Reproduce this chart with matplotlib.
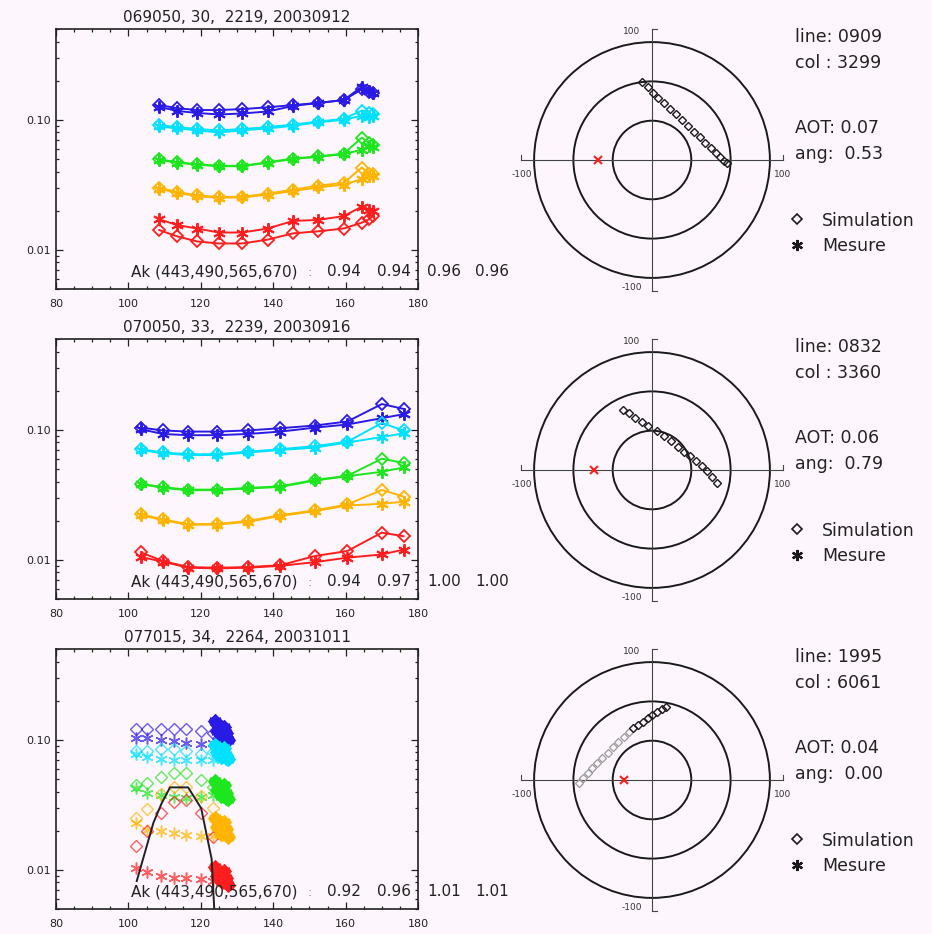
import numpy as np
import matplotlib
matplotlib.use("Agg")
import matplotlib.pyplot as plt
from matplotlib.patches import Circle
from matplotlib.lines import Line2D
from matplotlib.ticker import MultipleLocator, LogLocator, NullFormatter

W, H = 932, 934
BG = "#fdf7fd"
colors = ["#2a1ae6", "#00e1ff", "#1ee61e", "#ffb400", "#ff1e1e"]
STAR = (6, 2, 0)

titles = ["069050, 30,  2219, 20030912",
          "070050, 33,  2239, 20030916",
          "077015, 34,  2264, 20031011"]
ak = [[0.94, 0.94, 0.96, 0.96],
      [0.94, 0.97, 1.00, 1.00],
      [0.92, 0.96, 1.01, 1.01]]
pix_line = ["0909", "0832", "1995"]
pix_col = ["3299", "3360", "6061"]
aot = [0.07, 0.06, 0.04]
ang = [0.53, 0.79, 0.00]

# --- 069050 ---
x1 = [108.5, 113.5, 119, 125, 131.5, 138.5, 145.5, 152.5, 159.5, 164.5, 166.5, 167.5]
sim1 = [
    [0.130, 0.123, 0.119, 0.119, 0.121, 0.125, 0.130, 0.135, 0.142, 0.172, 0.163, 0.160],
    [0.091, 0.088, 0.085, 0.083, 0.085, 0.088, 0.092, 0.097, 0.102, 0.118, 0.112, 0.110],
    [0.0497, 0.0472, 0.0456, 0.0443, 0.0443, 0.0472, 0.0504, 0.0524, 0.0550, 0.0730, 0.0660, 0.0640],
    [0.0300, 0.0279, 0.0262, 0.0255, 0.0256, 0.0271, 0.0290, 0.0312, 0.0328, 0.0430, 0.0385, 0.0380],
    [0.0142, 0.0127, 0.0116, 0.0112, 0.0112, 0.0120, 0.0134, 0.0139, 0.0146, 0.0162, 0.0172, 0.0182],
]
mes1 = [
    [0.126, 0.117, 0.113, 0.110, 0.112, 0.116, 0.128, 0.135, 0.142, 0.180, 0.168, 0.162],
    [0.089, 0.086, 0.083, 0.080, 0.083, 0.086, 0.090, 0.096, 0.100, 0.108, 0.106, 0.107],
    [0.0493, 0.0468, 0.0452, 0.0440, 0.0440, 0.0468, 0.0500, 0.0520, 0.0545, 0.0590, 0.0630, 0.0615],
    [0.0295, 0.0275, 0.0258, 0.0252, 0.0253, 0.0266, 0.0284, 0.0302, 0.0318, 0.0350, 0.0372, 0.0368],
    [0.0172, 0.0155, 0.0146, 0.0136, 0.0136, 0.0146, 0.0167, 0.0170, 0.0182, 0.0215, 0.0204, 0.0200],
]

# --- 070050 ---
x2 = [103.5, 109.5, 116.5, 124.5, 133, 142, 151.5, 160.5, 170, 176]
sim2 = [
    [0.104, 0.099, 0.097, 0.097, 0.099, 0.103, 0.108, 0.116, 0.158, 0.145],
    [0.071, 0.067, 0.065, 0.065, 0.068, 0.071, 0.075, 0.081, 0.113, 0.099],
    [0.0385, 0.0362, 0.0347, 0.0347, 0.0357, 0.0368, 0.0412, 0.0443, 0.0600, 0.0557],
    [0.0224, 0.0205, 0.0188, 0.0189, 0.0199, 0.0221, 0.0240, 0.0267, 0.0345, 0.0307],
    [0.0114, 0.0098, 0.0088, 0.0087, 0.0088, 0.0091, 0.0107, 0.0117, 0.0162, 0.0152],
]
mes2 = [
    [0.101, 0.093, 0.091, 0.091, 0.093, 0.097, 0.104, 0.110, 0.123, 0.132],
    [0.070, 0.066, 0.064, 0.064, 0.067, 0.070, 0.073, 0.080, 0.088, 0.094],
    [0.0383, 0.0358, 0.0343, 0.0344, 0.0354, 0.0364, 0.0408, 0.0440, 0.0476, 0.0514],
    [0.0221, 0.0202, 0.0186, 0.0187, 0.0196, 0.0218, 0.0237, 0.0262, 0.0270, 0.0280],
    [0.0105, 0.0097, 0.0087, 0.0086, 0.0087, 0.0090, 0.0096, 0.0104, 0.0110, 0.0120],
]

# --- 077015 ---
x3 = [102, 105, 109, 112.5, 116, 120, 123.5]
sim3 = [
    [0.121, 0.122, 0.122, 0.122, 0.121, 0.118, 0.112],
    [0.082, 0.082, 0.085, 0.085, 0.082, 0.078, 0.080],
    [0.0449, 0.0463, 0.0519, 0.0557, 0.0557, 0.0490, 0.0436],
    [0.0251, 0.0293, 0.0380, 0.0431, 0.0431, 0.0370, 0.0300],
    [0.0152, 0.0198, 0.0273, 0.0335, 0.0345, 0.0273, 0.0180],
]
mes3 = [
    [0.104, 0.104, 0.100, 0.098, 0.094, 0.093, 0.095],
    [0.078, 0.074, 0.071, 0.070, 0.070, 0.070, 0.070],
    [0.0424, 0.0388, 0.0377, 0.0366, 0.0356, 0.0366, 0.0377],
    [0.0230, 0.0204, 0.0198, 0.0193, 0.0187, 0.0181, 0.0181],
    [0.0104, 0.0096, 0.0090, 0.0087, 0.0087, 0.0085, 0.0082],
]
clump_x3 = [124.0, 124.5, 125.0, 125.5, 126.0, 126.5, 127.0, 127.5, 124.5, 125.5, 126.5, 127.0]
clump3 = [
    [0.140, 0.132, 0.128, 0.120, 0.115, 0.110, 0.105, 0.100, 0.118, 0.108, 0.126, 0.112],
    [0.092, 0.088, 0.085, 0.082, 0.078, 0.075, 0.073, 0.071, 0.080, 0.074, 0.086, 0.077],
    [0.048, 0.046, 0.044, 0.042, 0.040, 0.038, 0.036, 0.035, 0.041, 0.037, 0.045, 0.039],
    [0.025, 0.024, 0.023, 0.022, 0.021, 0.020, 0.019, 0.018, 0.0215, 0.019, 0.0235, 0.0205],
    [0.0105, 0.0100, 0.0096, 0.0092, 0.0088, 0.0084, 0.0080, 0.0076, 0.0090, 0.0082, 0.0098, 0.0086],
]
filt_x = [102.3, 106.9, 109.2, 111.5, 116.5, 120.1, 123.0, 123.8]
filt_y = [0.0082, 0.0230, 0.0326, 0.0431, 0.0431, 0.0298, 0.0121, 0.0045]

# viewing geometry (polar), simulated points and measured point
geo_x1 = [-7.4, -3.3, 0.8, 4.8, 9.2, 13.5, 18.1, 22.6, 27.2, 31.8, 36.4, 40.7, 44.8, 48.6, 52.2, 55.0, 57.0]
geo_y1 = [59.3, 55.5, 51.4, 47.6, 43.5, 39.2, 34.9, 30.5, 26.2, 21.6, 17.3, 13.2, 9.2, 5.6, 2.0, -0.5, -2.5]
geo_x2 = [-21.9, -17.6, -13.0, -7.9, -2.8, 3.6, 9.4, 14.5, 19.6, 24.7, 29.0, 33.3, 37.9, 41.7, 45.5, 49.4]
geo_y2 = [45.8, 43.3, 39.9, 36.9, 33.8, 29.8, 26.2, 22.1, 17.8, 14.0, 10.7, 6.9, 3.3, -0.8, -5.1, -10.2]
geo_x3 = [-14.3, -10.4, -6.6, -2.8, 0.3, 3.6, 7.4, 10.4]
geo_y3 = [39.4, 42.0, 44.5, 47.1, 49.6, 52.2, 54.2, 56.0]
geo_x3b = [-55.7, -52.4, -49.1, -45.5, -41.7, -37.9, -33.8, -29.5, -25.7, -21.1, -17.6]
geo_y3b = [-2.5, 1.3, 5.1, 8.9, 12.7, 16.5, 20.4, 25.4, 29.3, 33.1, 36.9]
mes_x = [-41, -44, -21]
mes_y = [0, 0, 0]
rings = [30, 60, 90]

fig = plt.figure(figsize=(W / 100, H / 100), dpi=100, facecolor=BG)


def px_axes(left, top, right, bottom):
    return fig.add_axes([left / W, 1 - bottom / H, (right - left) / W, (bottom - top) / H])


def ftext(x, y, s, **kw):
    kw.setdefault("color", "#222222")
    fig.text(x / W, 1 - y / H, s, **kw)


rows = [(x1, sim1, mes1), (x2, sim2, mes2), (x3, sim3, mes3)]
geo = [(geo_x1, geo_y1), (geo_x2, geo_y2), (geo_x3, geo_y3)]

for i, (x, sims, mess) in enumerate(rows):
    off = 310 * i
    ax = px_axes(56, 29 + off, 418, 289 + off)
    ax.set_facecolor(BG)
    for c, s, m in zip(colors, sims, mess):
        if i < 2:
            ax.plot(x, s, color=c, lw=1.4, marker="D", ms=6, mfc="none", mew=1.3)
            ax.plot(x, m, color=c, lw=1.4, marker=STAR, ms=9, mew=1.4)
        else:
            ax.plot(x, s, color=c, ls="none", marker="D", ms=6, mfc="none", mew=1, alpha=0.7)
            ax.plot(x, m, color=c, ls="none", marker=STAR, ms=8.5, mew=1.1, alpha=0.7)
    if i == 2:
        for c, cl in zip(colors, clump3):
            ax.plot(clump_x3, cl, color=c, ls="none", marker="D", ms=6, mew=1.8)
            ax.plot(clump_x3, cl, color=c, ls="none", marker=STAR, ms=9, mew=1.8)
        ax.plot(filt_x, filt_y, color="#222222", lw=1.4)

    ax.set_xlim(80, 180)
    ax.set_yscale("log")
    ax.set_ylim(0.005, 0.5)
    ax.set_xticks(range(80, 181, 20))
    ax.xaxis.set_minor_locator(MultipleLocator(5))
    ax.set_yticks([0.01, 0.1])
    ax.set_yticklabels(["0.01", "0.10"])
    ax.yaxis.set_minor_locator(LogLocator(subs=np.arange(2, 10)))
    ax.yaxis.set_minor_formatter(NullFormatter())
    ax.tick_params(which="both", direction="in", top=True, right=True,
                   labelsize=8, width=0.9, colors="#222222")
    ax.tick_params(axis="x", pad=7)
    ax.tick_params(axis="y", pad=4)
    ax.tick_params(which="major", length=5)
    ax.tick_params(which="minor", length=2.5)
    for sp in ax.spines.values():
        sp.set_linewidth(1.2)
        sp.set_color("#222222")
    ax.set_title(titles[i], fontsize=11, pad=5, color="#222222")

    ftext(131, 272 + off, "Ak (443,490,565,670)", fontsize=11, va="center")
    ftext(310, 272 + off, ":", fontsize=9, va="center", ha="center", color="#888888")
    for xv, v in zip([327, 377, 427, 475], ak[i]):
        ftext(xv, 272 + off, "%.2f" % v, fontsize=11, va="center")

    # viewing geometry
    cy = 160 + off
    pa = px_axes(652 - 144.1, cy - 144.1, 652 + 144.1, cy + 144.1)
    pa.set_xlim(-110, 110)
    pa.set_ylim(-110, 110)
    pa.axis("off")
    pa.plot([-100, 100], [0, 0], color="#444444", lw=0.8)
    pa.plot([0, 0], [-100, 100], color="#444444", lw=0.8)
    pa.plot([-100, -100], [0, 4], color="#444444", lw=0.8)
    pa.plot([100, 100], [0, 4], color="#444444", lw=0.8)
    pa.plot([0, 4], [100, 100], color="#444444", lw=0.8)
    pa.plot([0, 4], [-100, -100], color="#444444", lw=0.8)
    for r in rings:
        pa.add_patch(Circle((0, 0), r, fill=False, color="#1a1a1a", lw=1.4))
    tk = dict(fontsize=6.5, ha="center", va="center", color="#333333")
    pa.text(-15.5, 98, "100", **tk)
    pa.text(-15.5, -97, "-100", **tk)
    pa.text(-99, -10.7, "-100", **tk)
    pa.text(99.6, -10.7, "100", **tk)
    if i == 2:
        pa.plot(geo_x3b, geo_y3b, ls="none", marker="D", ms=4, mfc="none",
                mec="#9a9a9a", mew=0.9)
    gx, gy = geo[i]
    pa.plot(gx, gy, ls="none", marker="D", ms=4, mfc="none", mec="#1a1a1a", mew=1.0)
    pa.plot(mes_x[i], mes_y[i], ls="none", marker="x", ms=6, mew=1.5, color="#ff2020")

    ftext(795, 41.7 + off, "line: %s" % pix_line[i], fontsize=12.5, va="baseline")
    ftext(795, 68.3 + off, "col : %s" % pix_col[i], fontsize=12.5, va="baseline")
    ftext(795, 133.3 + off, "AOT: %.2f" % aot[i], fontsize=12.5, va="baseline")
    ftext(795, 159.3 + off, "ang:  %.2f" % ang[i], fontsize=12.5, va="baseline")
    ftext(822, 226 + off, "Simulation", fontsize=12.5, va="baseline")
    ftext(822, 250.7 + off, "Mesure", fontsize=12.5, va="baseline")
    fig.add_artist(Line2D([797 / W], [1 - (219 + off) / H], marker="D", ms=5, mfc="none",
                          mec="#1a1a1a", mew=1.2, ls="none", transform=fig.transFigure))
    fig.add_artist(Line2D([797 / W], [1 - (245 + off) / H], marker=STAR, ms=8, mew=1.6,
                          color="#1a1a1a", ls="none", transform=fig.transFigure))

fig.savefig("out.png", dpi=100, facecolor=BG)
